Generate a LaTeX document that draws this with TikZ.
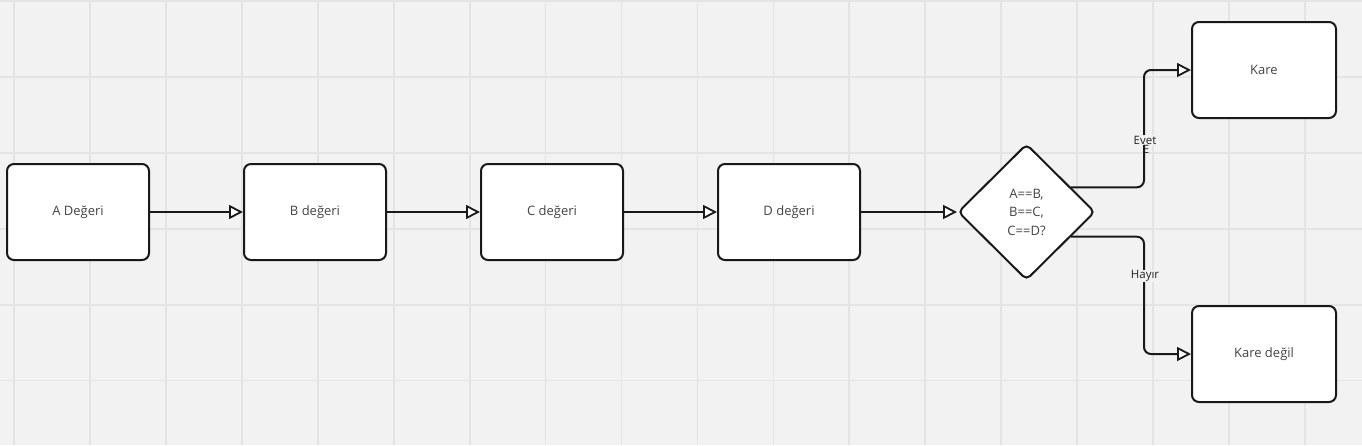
\documentclass[tikz,border=0pt]{standalone}
\usepackage{fontspec}
\setmainfont{Open Sans}
\usetikzlibrary{arrows.meta,shapes.geometric,calc}
\definecolor{bg}{HTML}{F2F2F2}
\definecolor{gridc}{HTML}{E4E4E4}
\definecolor{txt}{HTML}{444444}
\definecolor{lbl}{HTML}{222222}
\tikzset{
  box/.style={draw=black!90, line width=2pt, fill=white, rounded corners=7pt,
    minimum width=142pt, minimum height=96pt, inner sep=0pt,
    text=txt, font=\fontsize{13}{16}\selectfont},
  decision/.style={draw=black!90, line width=2pt, fill=white, shape=diamond,
    rounded corners=5pt, minimum width=137pt, minimum height=136pt, inner sep=0pt,
    text=txt, align=center, font=\fontsize{13}{18.5}\selectfont},
  conn/.style={line width=2pt, draw=black!90,
    -{Triangle[length=14pt,width=14pt,fill=white,line width=1.8pt]}},
  elabel/.style={fill=bg, inner sep=1pt, text=lbl, font=\fontsize{11.5}{13}\selectfont},
}
\begin{document}
\begin{tikzpicture}[x=1pt,y=-1pt]
\useasboundingbox (0,0) rectangle (1362,445);
\fill[bg] (0,0) rectangle (1362,445);
\foreach \k in {0,...,17} {\draw[gridc, line width=1.8pt] ({14+75.94*\k},0) -- ({14+75.94*\k},445);}
\foreach \k in {0,...,5} {\draw[gridc, line width=1.8pt] (0,{1+75.9*\k}) -- (1362,{1+75.9*\k});}

\node[box] (a) at (78,212) {A Değeri};
\node[box] (b) at (315,212) {B değeri};
\node[box] (c) at (552,212) {C değeri};
\node[box] (d) at (789,212) {D değeri};
\node[decision] (dia) at (1026.5,212) {A==B,\\B==C,\\C==D?};
\node[box, minimum width=144pt] (kare) at (1264,70) {Kare};
\node[box, minimum width=144pt] (kared) at (1264,354) {Kare değil};

\draw[conn] (a.east) -- (b.west);
\draw[conn] (b.east) -- (c.west);
\draw[conn] (c.east) -- (d.west);
\draw[conn] (d.east) -- (dia.west);

\coordinate (ev) at ($(kare.west)+(-47,0)$);
\coordinate (hy) at ($(kared.west)+(-47,0)$);
\draw[conn, rounded corners=7pt] (dia.29) -| (ev) -- (kare.west);
\draw[conn, rounded corners=7pt] (dia.-29) -| (hy) -- (kared.west);

\node[elabel] (evet) at (1145,140) {Evet};
\node[text=lbl, inner sep=0pt, font=\fontsize{11.5}{13}\selectfont] (evete) at (1146,149) {E};
\node[elabel] (hayir) at (1145,276) {Hayır};
\end{tikzpicture}
\end{document}
